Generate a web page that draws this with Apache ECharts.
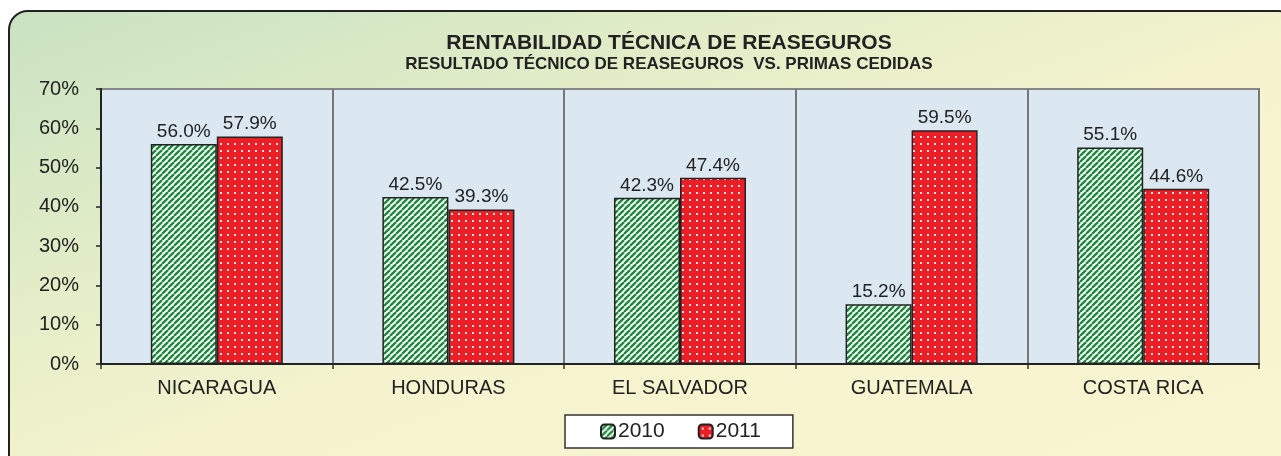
<!DOCTYPE html>
<html>
<head>
<meta charset="utf-8">
<script src="https://cdn.jsdelivr.net/npm/echarts@6/dist/echarts.min.js"></script>
<style>
  html, body { margin: 0; padding: 0; background: #fff; }
  .frame {
    position: absolute;
    left: 8px; top: 10px;
    width: 1290px; height: 470px;
    box-sizing: border-box;
    border: 2px solid #222;
    border-radius: 20px;
    background: linear-gradient(160deg, #c9e2c2 0%, #e2edc7 30%, #f6f4cf 55%, #f8f5cf 100%);
  }
  #chart { position: absolute; left: 0; top: 0; width: 1281px; height: 456px; }
</style>
</head>
<body>
<div class="frame"></div>
<div id="chart"></div>
<script>
  const countries = ['NICARAGUA', 'HONDURAS', 'EL SALVADOR', 'GUATEMALA', 'COSTA RICA'];
  const years = ['2010', '2011'];
  const values2010 = [56.0, 42.5, 42.3, 15.2, 55.1];
  const values2011 = [57.9, 39.3, 47.4, 59.5, 44.6];

  // green diagonal hatching
  function stripes() {
    const c = document.createElement('canvas');
    c.width = 6; c.height = 6;
    const g = c.getContext('2d');
    g.fillStyle = '#ffffff';
    g.fillRect(0, 0, 6, 6);
    g.strokeStyle = '#1c8a3c';
    g.lineWidth = 2.4;
    for (let k = -6; k <= 12; k += 6) {
      g.beginPath();
      g.moveTo(k, 6);
      g.lineTo(k + 6, 0);
      g.stroke();
    }
    return c;
  }

  // red with small white dots
  function dots() {
    const c = document.createElement('canvas');
    c.width = 7; c.height = 7;
    const g = c.getContext('2d');
    g.fillStyle = '#ec1f26';
    g.fillRect(0, 0, 7, 7);
    g.fillStyle = '#ffe4e4';
    g.fillRect(3, 3, 2, 2);
    return c;
  }

  const font = 'Liberation Sans, Arial, sans-serif';

  const label = {
    show: true,
    position: 'top',
    distance: 3,
    fontFamily: font,
    fontSize: 19,
    color: '#222',
    formatter: p => p.value.toFixed(1) + '%'
  };

  const chart = echarts.init(document.getElementById('chart'));
  chart.setOption({
    backgroundColor: 'transparent',
    title: {
      text: 'RENTABILIDAD TÉCNICA DE REASEGUROS',
      subtext: 'RESULTADO TÉCNICO DE REASEGUROS  VS. PRIMAS CEDIDAS',
      left: 664,
      textAlign: 'center',
      top: 28,
      itemGap: 2,
      textStyle: { fontFamily: font, fontSize: 21, fontWeight: 'bold', color: '#222' },
      subtextStyle: { fontFamily: font, fontSize: 17, fontWeight: 'bold', color: '#222' }
    },
    legend: {
      data: years,
      left: 565,
      top: 415,
      padding: [6, 32, 6, 35],
      itemGap: 33,
      itemWidth: 14,
      itemHeight: 14,
      backgroundColor: '#fff',
      borderColor: '#333',
      borderWidth: 1.5,
      borderRadius: 0,
      textStyle: { fontFamily: font, fontSize: 21, color: '#222', padding: [0, 0, 0, -2] }
    },
    grid: {
      left: 101, right: 22, top: 89, bottom: 92,
      show: true,
      backgroundColor: '#dbe8f2',
      borderColor: '#888',
      borderWidth: 2
    },
    xAxis: {
      type: 'category',
      data: countries,
      axisLine: { lineStyle: { color: '#222', width: 2 } },
      axisTick: { show: true, length: 5, lineStyle: { color: '#333', width: 1.5 } },
      splitLine: { show: true, lineStyle: { color: '#777', width: 2 } },
      axisLabel: { fontFamily: font, fontSize: 20, color: '#222', margin: 14 }
    },
    yAxis: {
      type: 'value',
      min: 0,
      max: 70,
      interval: 10,
      axisLine: { show: true, lineStyle: { color: '#222', width: 2 } },
      axisTick: { show: true, length: 5, lineStyle: { color: '#222', width: 1.5 } },
      splitLine: { show: false },
      axisLabel: { fontFamily: font, fontSize: 20, color: '#222', margin: 22, formatter: '{value}%' }
    },
    series: [
      {
        name: '2010',
        type: 'bar',
        data: values2010,
        barGap: '0%',
        barCategoryGap: '43%',
        itemStyle: { color: { image: stripes(), repeat: 'repeat' }, borderColor: '#222', borderWidth: 1.5 },
        label: label
      },
      {
        name: '2011',
        type: 'bar',
        data: values2011,
        itemStyle: { color: { image: dots(), repeat: 'repeat' }, borderColor: '#222', borderWidth: 1.5 },
        label: label
      }
    ]
  });
</script>
</body>
</html>
